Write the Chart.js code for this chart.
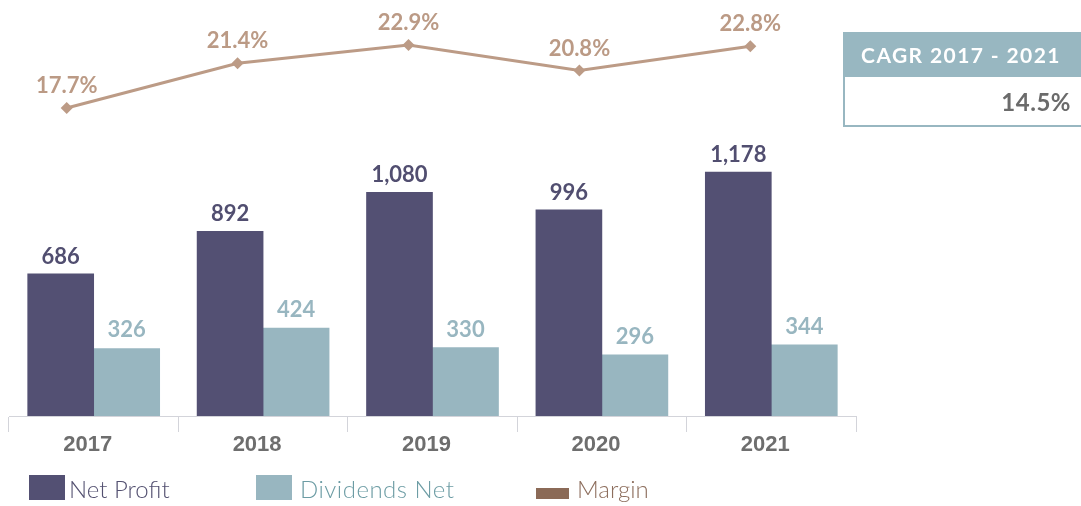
<!DOCTYPE html>
<html>
<head>
<meta charset="utf-8">
<title>Net Profit & Dividends</title>
<script src="https://cdn.jsdelivr.net/npm/chart.js@4.4.1/dist/chart.umd.min.js"></script>
<style>
    html, body { margin: 0; padding: 0; background: #fff; }
    #wrap { position: relative; width: 1081px; height: 506px; overflow: hidden; font-family: 'Lato', sans-serif; }
    #chart { position: absolute; left: 0; top: 0; }

    /* caixa CAGR */
    .cagr { position: absolute; left: 843px; top: 32px; width: 240px; }
    .cagr-head { height: 45px; line-height: 45px; background: #98b7c1; color: #fff; font-weight: 700; font-size: 21px; letter-spacing: 1.4px; text-align: center; padding-right: 4px; }
    .cagr-val { height: 48px; line-height: 50px; border-left: 2px solid #98b7c1; border-bottom: 2px solid #98b7c1; color: #6b6b6b; font-weight: 700; font-size: 24px; letter-spacing: 0.5px; text-align: right; padding-right: 12px; }

    /* legenda */
    .lg-box { position: absolute; }
    .lg-txt { position: absolute; top: 474px; font-size: 24px; line-height: 30px; font-weight: 300; }
</style>
</head>
<body>
<div id="wrap">
    <canvas id="chart" width="1081" height="506"></canvas>

    <div class="cagr">
        <div class="cagr-head">CAGR 2017 - 2021</div>
        <div class="cagr-val">14.5%</div>
    </div>

    <div class="lg-box" style="left:29px; top:475px; width:36px; height:25px; background:#535073;"></div>
    <div class="lg-txt" style="left:69px; color:#535070;">Net Profit</div>
    <div class="lg-box" style="left:256px; top:475px; width:36px; height:25px; background:#98b6c0;"></div>
    <div class="lg-txt" style="left:300px; color:#6c9ca4; letter-spacing: 0.5px;">Dividends Net</div>
    <div class="lg-box" style="left:536px; top:488px; width:33px; height:11px; background:#8b6a57;"></div>
    <div class="lg-txt" style="left:577px; color:#8d6e5d;">Margin</div>
</div>

<script>
// --- DADOS ---
const years = ['2017', '2018', '2019', '2020', '2021'];
const netProfit = [686, 892, 1080, 996, 1178];
const dividendsNet = [326, 424, 330, 296, 344];
const margin = [17.7, 21.4, 22.9, 20.8, 22.8];

// Rótulos de valor por cima das barras / pontos
const valueLabels = {
    id: 'valueLabels',
    afterDatasetsDraw(chart) {
        const ctx = chart.ctx;
        ctx.save();
        ctx.textAlign = 'center';
        ctx.textBaseline = 'alphabetic';
        chart.data.datasets.forEach((ds, i) => {
            const meta = chart.getDatasetMeta(i);
            ctx.fillStyle = ds.labelColor;
            ctx.font = ds.labelFont;
            meta.data.forEach((el, j) => {
                const raw = ds.data[j];
                const v = typeof raw === 'object' ? raw.y : raw;
                ctx.fillText(ds.fmt(v), el.x, el.y - ds.labelGap);
            });
        });
        ctx.restore();
    }
};

const ctx = document.getElementById('chart').getContext('2d');

new Chart(ctx, {
    type: 'bar',
    data: {
        labels: years,
        datasets: [
            {
                label: 'Margin',
                type: 'line',
                xAxisID: 'x2',
                yAxisID: 'y2',
                data: years.map((y, i) => ({ x: Number(y), y: margin[i] })),
                borderColor: '#bc9b86',
                borderWidth: 3,
                pointStyle: 'rectRot',
                pointRadius: 6,
                pointBackgroundColor: '#bc9b86',
                pointBorderWidth: 0,
                labelColor: '#bb9a85',
                labelFont: "700 22px 'Lato'",
                labelGap: 15,
                fmt: v => v.toFixed(1) + '%'
            },
            {
                label: 'Net Profit',
                data: netProfit,
                backgroundColor: '#535073',
                labelColor: '#514e70',
                labelFont: "700 22px 'Lato'",
                labelGap: 10,
                fmt: v => v.toLocaleString('en-US')
            },
            {
                label: 'Dividends Net',
                data: dividendsNet,
                backgroundColor: '#98b6c0',
                labelColor: '#98b6c0',
                labelFont: "700 22px 'Lato'",
                labelGap: 11,
                fmt: v => v.toLocaleString('en-US')
            }
        ]
    },
    options: {
        responsive: false,
        animation: false,
        devicePixelRatio: 1,
        layout: { padding: { left: 9, right: 225, top: 0, bottom: 0 } },
        datasets: {
            bar: { barThickness: 66 }
        },
        scales: {
            x: {
                grid: { drawOnChartArea: false, drawTicks: true, tickLength: 16, color: '#d3d4da' },
                border: { color: '#d3d4da' },
                ticks: {
                    color: '#6e6e6e',
                    padding: 0,
                    labelOffset: -6,
                    font: { family: "'Liberation Sans', Arial", size: 22, weight: 'bold' }
                },
                afterFit: s => { s.height = 90; }
            },
            x2: { type: 'linear', display: false, offset: false, min: 2016.6625, max: 2021.6185 },
            y: { display: false, min: 0, max: 1980 },
            y2: { display: false, min: -7.75, max: 26.13 }
        },
        plugins: {
            legend: { display: false },
            tooltip: { enabled: false }
        }
    },
    plugins: [valueLabels]
});
</script>
</body>
</html>
